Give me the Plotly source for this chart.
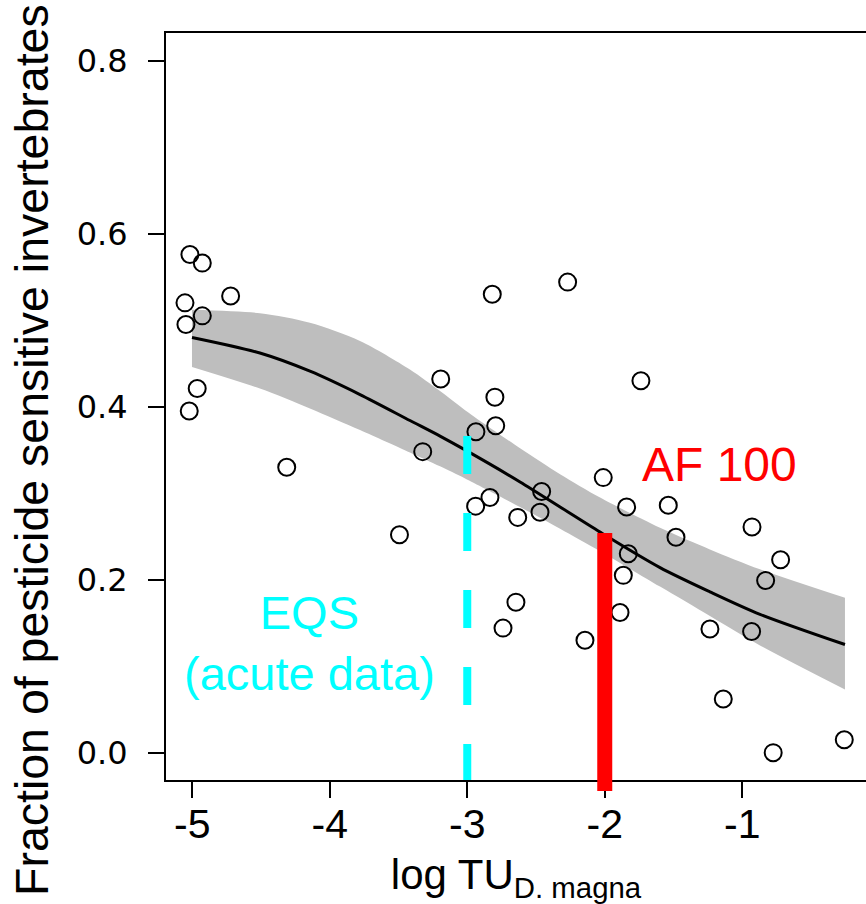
import plotly.graph_objects as go

# ---- data ----
pts_x = [-5.017, -4.927, -5.053, -5.046, -4.927, -4.721, -4.964, -5.022, -4.313,
         -3.493, -3.324, -3.193, -2.937, -2.939, -2.835, -2.818, -2.799, -2.793,
         -2.740, -2.646, -2.633, -2.471, -2.459, -2.270, -2.144, -2.011, -1.889,
         -1.865, -1.841, -1.829, -1.737, -1.538, -1.482, -1.235, -1.138, -0.929,
         -0.932, -0.830, -0.721, -0.775, -0.258]
pts_y = [0.576, 0.566, 0.520, 0.495, 0.505, 0.528, 0.421, 0.395, 0.330,
         0.252, 0.348, 0.432, 0.371, 0.285, 0.295, 0.530, 0.411, 0.378,
         0.144, 0.174, 0.272, 0.278, 0.302, 0.544, 0.130, 0.318, 0.162,
         0.205, 0.284, 0.230, 0.430, 0.286, 0.249, 0.143, 0.062, 0.261,
         0.140, 0.199, 0.223, 0.000, 0.015]

fit_x = [-5.002, -4.508, -4.144, -3.780, -3.417, -3.198, -3.016, -2.616, -2.325,
         -2.034, -1.598, -1.235, -0.871, -0.253]
fit_y = [0.480, 0.462, 0.441, 0.414, 0.384, 0.366, 0.350, 0.313, 0.284,
         0.255, 0.214, 0.186, 0.160, 0.125]
ci_upper = [0.512, 0.508, 0.497, 0.476, 0.443, 0.418, 0.396, 0.352, 0.322,
            0.295, 0.260, 0.235, 0.212, 0.179]
ci_lower = [0.446, 0.421, 0.398, 0.373, 0.347, 0.331, 0.317, 0.284, 0.259,
            0.233, 0.192, 0.158, 0.124, 0.073]

eqs_x = -3.0
eqs_top = 0.366
af_x = -2.0
af_top = 0.254

x_ticks = [-5, -4, -3, -2, -1]
x_tick_labels = ["-5", "-4", "-3", "-2", "-1"]
y_ticks = [0.0, 0.2, 0.4, 0.6, 0.8]
y_tick_labels = ["0.0", "0.2", "0.4", "0.6", "0.8"]

X_RANGE = [-5.191, -0.100]
Y_RANGE = [-0.0316, 0.832]

x_title = "log TU<sub>D. magna</sub>"
y_title = "Fraction of pesticide sensitive invertebrates"

# ---- figure ----
fig = go.Figure()

fig.add_trace(go.Scatter(
    x=fit_x, y=ci_lower, mode="lines",
    line=dict(width=0, color="#BEBEBE", shape="spline", smoothing=0.8),
    hoverinfo="skip", showlegend=False))
fig.add_trace(go.Scatter(
    x=fit_x, y=ci_upper, mode="lines", fill="tonexty", fillcolor="#BEBEBE",
    line=dict(width=0, color="#BEBEBE", shape="spline", smoothing=0.8),
    hoverinfo="skip", showlegend=False))

fig.add_trace(go.Scatter(
    x=fit_x, y=fit_y, mode="lines",
    line=dict(color="black", width=3, shape="spline", smoothing=0.8),
    showlegend=False))

fig.add_trace(go.Scatter(
    x=pts_x, y=pts_y, mode="markers",
    marker=dict(symbol="circle-open", size=17, color="black",
                line=dict(width=2, color="black")),
    showlegend=False))

def y_to_paper(v):
    return (v - Y_RANGE[0]) / (Y_RANGE[1] - Y_RANGE[0])

# EQS dashed cyan line
fig.add_shape(type="line", xref="x", yref="y", x0=eqs_x, x1=eqs_x,
              y0=eqs_top, y1=Y_RANGE[0], layer="above",
              line=dict(color="#00FFFF", width=8, dash="38px,39px"))
# AF 100 red bar (extends slightly below the axis)
fig.add_shape(type="line", xref="x", yref="paper", x0=af_x, x1=af_x,
              y0=y_to_paper(af_top), y1=-0.0147, layer="above",
              line=dict(color="#FF0000", width=15))

fig.add_annotation(x=-4.145, y=0.127, xref="x", yref="y",
                   text="EQS<br>(acute data)", showarrow=False,
                   xanchor="center", yanchor="middle",
                   font=dict(family="Liberation Sans, Arial", size=47, color="#00FFFF"))
fig.add_annotation(x=-1.166, y=0.333, xref="x", yref="y",
                   text="AF 100", showarrow=False,
                   xanchor="center", yanchor="middle",
                   font=dict(family="Liberation Sans, Arial", size=48, color="#FF0000"))

fig.add_annotation(x=-0.1914, y=0.4418, xref="paper", yref="paper",
                   text=y_title, textangle=-90, showarrow=False,
                   xanchor="center", yanchor="middle",
                   font=dict(family="Liberation Sans, Arial", size=46.5, color="black"))

fig.update_xaxes(range=X_RANGE, showline=True, linecolor="black", linewidth=2,
                 mirror=True, ticks="outside", ticklen=16, tickwidth=2,
                 tickcolor="black", tickvals=x_ticks, ticktext=x_tick_labels,
                 tickfont=dict(family="Liberation Sans Narrow, Liberation Sans, Arial",
                               size=41, color="black"),
                 ticklabelstandoff=-9,
                 showgrid=False, zeroline=False, automargin=False,
                 title=dict(text=x_title, standoff=20,
                            font=dict(family="Liberation Sans, Arial", size=42,
                                      color="black")))
fig.update_yaxes(range=Y_RANGE, showline=True, linecolor="black", linewidth=2,
                 mirror=False, ticks="outside", ticklen=16, tickwidth=2,
                 tickcolor="black", tickvals=y_ticks, ticktext=y_tick_labels,
                 tickfont=dict(family="DejaVu Sans, Liberation Sans", size=32,
                               color="black"),
                 ticklabelstandoff=14,
                 showgrid=False, zeroline=False, automargin=False)

fig.update_layout(width=866, height=904,
                  margin=dict(l=166, r=0, t=33, b=124),
                  plot_bgcolor="white", paper_bgcolor="white",
                  showlegend=False)

fig.write_html("out.html")
